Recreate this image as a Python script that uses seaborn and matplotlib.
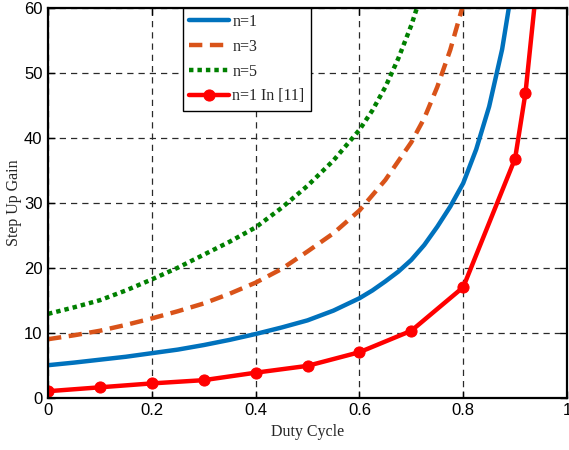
import numpy as np
import pandas as pd
import seaborn as sns
import matplotlib
matplotlib.use("Agg")
import matplotlib.pyplot as plt

# ---- data ----
d_n1 = [0, 0.05, 0.1, 0.15, 0.2, 0.25, 0.3, 0.35, 0.4, 0.45, 0.5, 0.55, 0.6, 0.625, 0.65,
        0.675, 0.7, 0.725, 0.75, 0.775, 0.8, 0.825, 0.85, 0.875, 0.89]
g_n1 = [5.0, 5.4, 5.85, 6.3, 6.85, 7.4, 8.1, 8.9, 9.8, 10.8, 11.9, 13.4, 15.3, 16.5, 17.9,
        19.4, 21.2, 23.5, 26.3, 29.4, 33.0, 38.2, 44.8, 53.6, 61.0]

d_n3 = [0, 0.05, 0.1, 0.15, 0.2, 0.25, 0.3, 0.35, 0.4, 0.45, 0.5, 0.55, 0.6, 0.65, 0.7,
        0.725, 0.75, 0.775, 0.8]
g_n3 = [9.0, 9.6, 10.3, 11.2, 12.2, 13.3, 14.5, 16.0, 17.7, 19.8, 22.5, 25.3, 28.8, 33.5, 39.3,
        43.0, 47.8, 53.5, 60.5]

d_n5 = [0, 0.05, 0.1, 0.15, 0.2, 0.25, 0.3, 0.35, 0.4, 0.45, 0.5, 0.55, 0.6, 0.625, 0.65,
        0.675, 0.7, 0.715]
g_n5 = [12.9, 13.9, 15.0, 16.5, 18.2, 20.0, 22.0, 24.0, 26.2, 29.2, 32.6, 36.5, 41.2, 44.2, 47.8,
        52.2, 57.3, 61.0]

d_ref = [0, 0.1, 0.2, 0.3, 0.4, 0.5, 0.6, 0.7, 0.8, 0.9, 0.92, 0.94]
g_ref = [1.0, 1.6, 2.2, 2.7, 3.85, 4.9, 7.0, 10.3, 17.0, 36.8, 46.9, 62.3]

labels = ["n=1", "n=3", "n=5", "n=1 In [11]"]
xticks = [0, 0.2, 0.4, 0.6, 0.8, 1]
xticklabels = ["0", "0.2", "0.4", "0.6", "0.8", "1"]
yticks = [0, 10, 20, 30, 40, 50, 60]

sns.set_style("white")
sans = ["Liberation Sans", "DejaVu Sans"]
serif = ["Liberation Serif", "DejaVu Serif"]

fig = plt.figure(figsize=(5.69, 4.5), dpi=100)
ax = fig.add_axes([0.0844, 0.1162, 0.9121, 0.8667])

sns.lineplot(x=d_n1, y=g_n1, ax=ax, color="#0072BD", lw=3.2, label=labels[0], sort=False)
sns.lineplot(x=d_n3, y=g_n3, ax=ax, color="#D95319", lw=3.2, linestyle=(0, (3.0, 1.7)),
             label=labels[1], sort=False)
sns.lineplot(x=d_n5, y=g_n5, ax=ax, color="#008000", lw=3.2, linestyle=(0, (1, 0.9)),
             label=labels[2], sort=False)
sns.lineplot(x=d_ref, y=g_ref, ax=ax, color="#FF0000", lw=3.2, marker="o", markersize=8,
             markeredgecolor="#FF0000", label=labels[3], sort=False)

ax.set_xlim(0, 1)
ax.set_ylim(0, 60)
ax.set_xticks(xticks)
ax.set_xticklabels(xticklabels)
ax.set_yticks(yticks)

ax.grid(True, color="#2a2a2a", linestyle=(0, (5, 4)), linewidth=0.9)
ax.set_axisbelow(True)
for s in ax.spines.values():
    s.set_visible(True)
    s.set_color("black")
    s.set_linewidth(1.6)
ax.tick_params(direction="in", length=5, width=1, top=True, right=True,
               bottom=True, left=True, labelsize=12, pad=4, colors="black")
for lab in ax.get_xticklabels() + ax.get_yticklabels():
    lab.set_family(sans)

ax.set_xlabel("Duty Cycle", family=serif, fontsize=11.5, labelpad=4)
ax.set_ylabel("Step Up Gain", family=serif, fontsize=11.5, labelpad=1)

leg = ax.legend(loc="upper left", bbox_to_anchor=(0.26, 1.0), prop={"family": serif, "size": 11.5},
                frameon=True, fancybox=False, edgecolor="black", framealpha=1,
                handlelength=2.5, handletextpad=0.2, labelspacing=0.55, borderpad=0.4,
                borderaxespad=0.0)
leg.get_frame().set_linewidth(1.0)

fig.savefig("out.png", dpi=100)
